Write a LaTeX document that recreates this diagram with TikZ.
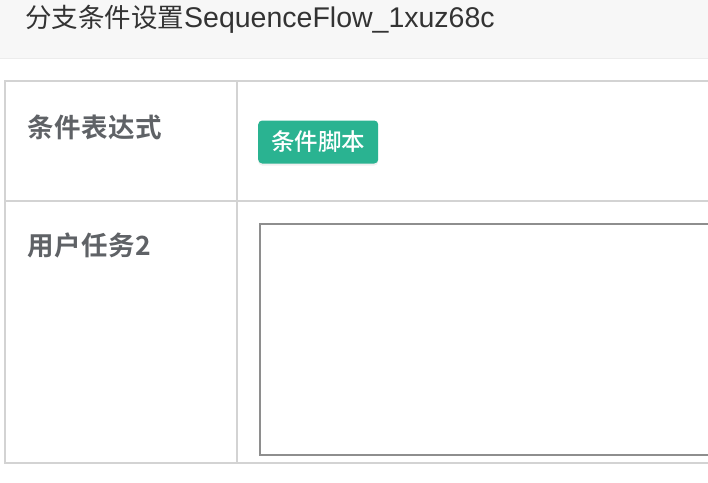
\documentclass[tikz,border=0pt]{standalone}
\usepackage{fontspec}
\usepackage{xcolor}
\usetikzlibrary{positioning,shadows}
\newfontfamily\cjktitle{Noto Sans CJK SC}
\newfontfamily\lattitle{Liberation Sans}
\newfontfamily\cjklabel[LetterSpace=2]{Noto Sans CJK SC Bold}
\newfontfamily\cjkbadge{Noto Sans CJK SC Medium}
\definecolor{headbg}{HTML}{F7F7F7}
\definecolor{headline}{HTML}{ECECEC}
\definecolor{gridline}{HTML}{D3D3D3}
\definecolor{labeltext}{HTML}{5F6266}
\definecolor{badgegreen}{HTML}{2AB391}
\definecolor{areaborder}{HTML}{8E8E8E}

\begin{document}
\begin{tikzpicture}[
            x=1pt, y=-1pt,                         % pixel-like units, y downwards
            grid/.style={draw=gridline, line width=2pt},
            rowlabel/.style={anchor=west, inner sep=0pt, text=labeltext,
                             font=\cjklabel\fontsize{26.5}{26.5}\selectfont},
            badge/.style={fill=badgegreen, rounded corners=4pt, text=white,
                          inner xsep=13pt, inner ysep=0pt, minimum height=43pt,
                          drop shadow={opacity=0.12, shadow xshift=0pt, shadow yshift=-2pt},
                          font=\cjkbadge\fontsize{23.5}{23.5}\selectfont},
            textarea/.style={draw=areaborder, line width=2pt, anchor=north west,
                             minimum width=470pt, minimum height=231pt, inner sep=0pt}
          ]
          \useasboundingbox (0,0) rectangle (708,482);
          \clip (0,0) rectangle (708,482);

          % header band
          \fill[headbg] (0,0) rectangle (708,58);
          \draw[headline, line width=1.5pt] (0,58.5) -- (708,58.5);
          \node (title) [anchor=west, inner sep=0pt, text=black!80] at (25,19)
                {\cjktitle\fontsize{26.5}{26.5}\selectfont 分支条件设置%
                 \lattitle\fontsize{28.5}{28.5}\selectfont SequenceFlow\_1xuz68c};

          % table grid
          \coordinate (tl) at (5,81);
          \coordinate (tr) at (712,81);
          \coordinate (bl) at (5,463);
          \coordinate (br) at (712,463);
          \coordinate (ml) at (5,201);
          \coordinate (mr) at (712,201);
          \coordinate (ct) at (237,81);
          \coordinate (cb) at (237,463);
          \draw[grid] (tr) -- (tl) -- (bl) -- (br);
          \draw[grid] (ml) -- (mr);
          \draw[grid] (ct) -- (cb);

          % cells
          \node (cond) [rowlabel] at (27,127) {条件表达式};
          \node (script) [badge, anchor=west] at (258,142) {条件脚本};
          \node (task) [rowlabel] at (27,245) {用户任务2};
          \node (area) [textarea] at (259,223) {};
        \end{tikzpicture}
\end{document}
